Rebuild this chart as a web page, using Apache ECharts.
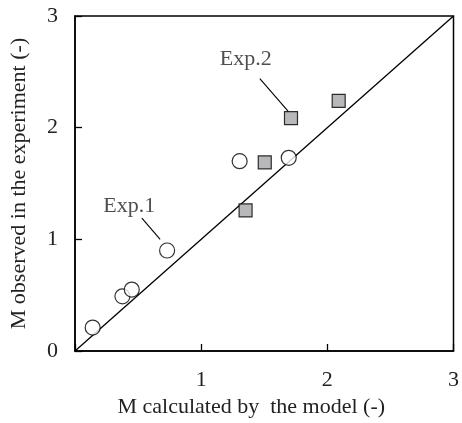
<!DOCTYPE html>
<html><head><meta charset="utf-8">
<script src="https://cdn.jsdelivr.net/npm/echarts@6/dist/echarts.min.js"></script>
<style>html,body{margin:0;padding:0;background:#fff}#c{width:462px;height:423px}</style>
</head><body><div id="c"></div>
<script>
const xTicks = [0, 1, 2, 3];
const yTicks = [0, 1, 2, 3];
const exp1 = [[0.14,0.21],[0.376,0.49],[0.45,0.55],[0.73,0.90],[1.305,1.70],[1.694,1.73]];
const exp2 = [[1.352,1.26],[1.504,1.69],[1.712,2.085],[2.09,2.24]];
const diag = [[0,0],[3,3]];
const labels = [{name:'Exp.1', pos:[0.43,1.30]},{name:'Exp.2', pos:[1.354,2.61]}];
const leader1 = [[0.53,1.19],[0.675,1.0]];
const leader2 = [[1.465,2.44],[1.69,2.145]];

const font = 'Liberation Serif';
const fs = 22;
const chart = echarts.init(document.getElementById('c'));
chart.setOption({
  animation:false,
  grid:{left:75,right:2,top:16,bottom:71,show:true,borderColor:'#000',borderWidth:1.5,backgroundColor:'transparent'},
  xAxis:{type:'value',min:xTicks[0],max:xTicks[xTicks.length-1],interval:1,
    name:'M calculated by  the model (-)',nameLocation:'middle',nameGap:45,
    nameTextStyle:{fontFamily:font,fontSize:fs,color:'#222',padding:[0,26,0,0]},
    axisLine:{lineStyle:{color:'#000',width:1.5}},
    axisTick:{inside:true,length:7,lineStyle:{color:'#000',width:1.3}},
    axisLabel:{fontFamily:font,fontSize:fs,color:'#222',margin:18,formatter:v=>v===0?'':String(v)},
    splitLine:{show:false}},
  yAxis:{type:'value',min:yTicks[0],max:yTicks[yTicks.length-1],interval:1,
    name:'M observed in the experiment (-)',nameLocation:'middle',nameGap:45,
    nameTextStyle:{fontFamily:font,fontSize:fs,color:'#222'},
    axisLine:{lineStyle:{color:'#000',width:1.5}},
    axisTick:{inside:true,length:7,lineStyle:{color:'#000',width:1.3}},
    axisLabel:{fontFamily:font,fontSize:fs,color:'#222',margin:17},
    splitLine:{show:false}},
  series:[
    {type:'line',data:diag,symbol:'none',lineStyle:{color:'#000',width:1.3},silent:true},
    {type:'line',data:leader1,symbol:'none',lineStyle:{color:'#000',width:1.1},silent:true},
    {type:'line',data:leader2,symbol:'none',lineStyle:{color:'#000',width:1.1},silent:true},
    {type:'scatter',data:exp1,symbol:'circle',symbolSize:15,itemStyle:{color:'#fff',borderColor:'#000',borderWidth:1.2},z:5},
    {type:'scatter',data:exp2,symbol:'rect',symbolSize:13,itemStyle:{color:'#a6a6a9',borderColor:'#000',borderWidth:1.2},z:5},
    {type:'scatter',data:labels.map(l=>({value:l.pos,name:l.name})),symbolSize:0,
      label:{show:true,position:'inside',formatter:p=>p.name,fontFamily:font,fontSize:fs,color:'#222'}}
  ]
});
</script></body></html>
